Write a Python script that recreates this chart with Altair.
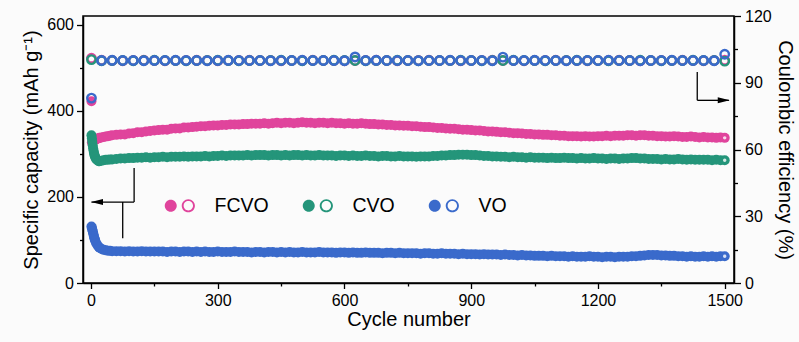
import altair as alt
import pandas as pd

FONT = "Liberation Sans"

# ---- series names and colours ----
samples = ["FCVO", "CVO", "VO"]
colors = ["#E0449C", "#24957A", "#3A6ACB"]

# ---- discharge capacity (mAh g-1) vs cycle ----
early_cycles = [1, 2, 3, 4, 5, 6, 7, 8, 9, 10, 12, 15, 18, 20, 25, 30, 35, 40, 45, 50]
late_cycles = list(range(60, 1501, 10))
cycles = early_cycles + late_cycles

fcvo_capacity = [
    422, 326, 328, 329, 330, 331, 331, 332, 332, 333, 334, 335, 336, 337, 338, 339, 340, 341, 342, 343,
    344, 345, 345, 347, 348, 350, 350, 352, 353, 354,
    355, 356, 356, 358, 359, 359, 361, 361, 362, 363,
    364, 364, 365, 366, 366, 367, 367, 368, 368, 368,
    369, 369, 370, 370, 370, 371, 370, 371, 372, 371,
    372, 372, 371, 372, 373, 372, 372, 371, 372, 372,
    371, 372, 371, 371, 370, 371, 370, 370, 371, 370,
    369, 369, 368, 368, 367, 367, 366, 366, 365, 365,
    364, 364, 363, 362, 362, 361, 360, 360, 359, 358,
    358, 357, 356, 356, 355, 354, 354, 353, 352, 352,
    351, 350, 350, 349, 348, 348, 347, 346, 346, 345,
    345, 344, 344, 343, 343, 342, 342, 341, 341, 341,
    340, 341, 340, 340, 341, 341, 342, 341, 342, 342,
    342, 343, 343, 342, 343, 343, 342, 342, 341, 341,
    340, 340, 341, 340, 339, 339, 340, 339, 338, 339,
    338, 338, 337, 338, 337,
]
cvo_capacity = [
    343, 336, 328, 320, 313, 307, 302, 298, 295, 292, 288, 285, 283, 283, 284, 285, 286, 286, 287, 287,
    288, 289, 289, 290, 290, 291, 291, 292, 291, 292,
    292, 293, 292, 293, 293, 293, 294, 293, 294, 294,
    294, 295, 294, 295, 295, 296, 295, 296, 296, 296,
    296, 297, 296, 297, 297, 297, 296, 297, 297, 296,
    297, 296, 297, 297, 296, 297, 296, 296, 297, 296,
    296, 296, 295, 296, 296, 295, 296, 295, 295, 296,
    295, 295, 294, 295, 295, 294, 294, 295, 294, 294,
    294, 293, 294, 294, 294, 295, 295, 296, 296, 297,
    297, 298, 298, 298, 297, 297, 296, 295, 295, 294,
    294, 293, 293, 292, 293, 292, 292, 291, 292, 291,
    291, 291, 290, 291, 290, 290, 291, 290, 290, 289,
    290, 289, 289, 290, 289, 289, 288, 289, 289, 288,
    289, 289, 290, 290, 289, 289, 288, 288, 288, 287,
    288, 287, 287, 288, 287, 286, 287, 286, 286, 286,
    286, 285, 286, 285, 285,
]
vo_capacity = [
    131, 128, 124, 120, 116, 112, 108, 104, 101, 98, 93, 88, 84, 82, 79, 77, 76, 75, 75, 74,
    74, 74, 73, 74, 73, 73, 74, 73, 73, 73,
    73, 73, 72, 73, 73, 72, 73, 73, 72, 73,
    72, 73, 72, 72, 73, 72, 72, 72, 73, 72,
    72, 72, 71, 72, 72, 71, 72, 72, 71, 72,
    71, 72, 71, 71, 72, 71, 71, 71, 72, 71,
    71, 71, 70, 71, 71, 70, 71, 70, 70, 71,
    70, 70, 70, 69, 70, 70, 69, 70, 69, 69,
    69, 69, 68, 69, 69, 68, 68, 69, 68, 68,
    68, 67, 68, 67, 67, 67, 66, 67, 66, 66,
    66, 65, 66, 65, 65, 64, 65, 64, 64, 63,
    63, 63, 62, 63, 62, 62, 62, 61, 62, 61,
    61, 61, 62, 61, 61, 60, 61, 61, 60, 61,
    61, 61, 62, 62, 63, 64, 65, 65, 65, 64,
    64, 63, 63, 62, 62, 61, 62, 61, 61, 62,
    61, 62, 61, 62, 62,
]

# ---- coulombic efficiency (%) ----
ce_cycles = [1] + list(range(25, 1501, 25))
fcvo_ce = [
    101.0, 100.1, 100.0, 99.9, 100.0, 100.1, 100.0, 99.9, 100.0, 100.0,
    100.1, 100.0, 99.9, 100.0, 100.0, 100.1, 100.0, 100.0, 99.9, 100.0,
    100.0, 100.1, 100.0, 100.0, 99.9, 100.0, 100.0, 100.1, 100.0, 99.9,
    100.0, 100.0, 100.1, 100.0, 100.0, 99.9, 100.0, 100.0, 100.1, 100.0,
    100.0, 99.9, 100.0, 100.0, 100.1, 100.0, 100.0, 99.9, 100.0, 100.0,
    100.1, 100.0, 99.9, 100.0, 100.0, 100.0, 100.1, 100.0, 99.9, 100.0, 100.1,
]
cvo_ce = [
    100.4, 99.9, 100.0, 100.0, 99.9, 100.0, 100.1, 100.0, 100.0, 99.9,
    100.0, 100.0, 100.1, 100.0, 99.9, 100.0, 100.0, 100.0, 100.1, 100.0,
    99.9, 100.0, 100.0, 100.1, 100.0, 100.0, 99.9, 100.0, 100.0, 100.1,
    100.0, 99.9, 100.0, 100.0, 100.0, 100.1, 100.0, 99.9, 100.0, 100.0,
    100.1, 100.0, 100.0, 99.9, 100.0, 100.0, 100.1, 100.0, 100.0, 99.9,
    100.0, 100.0, 100.1, 100.0, 99.9, 100.0, 100.0, 100.1, 100.0, 100.0, 99.7,
]
vo_ce = [
    83.1, 100.0, 100.1, 100.0, 100.0, 99.9, 100.0, 100.0, 100.1, 100.0,
    100.0, 99.9, 100.0, 100.1, 100.0, 100.0, 100.0, 99.9, 100.0, 100.0,
    100.1, 100.0, 100.0, 100.0, 99.9, 101.6, 100.0, 100.1, 100.0, 100.0,
    100.0, 99.9, 100.0, 100.0, 100.1, 100.0, 100.0, 100.0, 99.9, 101.5,
    100.0, 100.0, 100.1, 100.0, 100.0, 99.9, 100.0, 100.0, 100.0, 100.1,
    100.0, 100.0, 99.9, 100.0, 100.0, 100.1, 100.0, 100.0, 100.0, 99.9, 102.8,
]

# ---- axis ticks ----
x_ticks = list(range(0, 1501, 150))
left_ticks = list(range(0, 601, 100))
right_ticks = list(range(0, 121, 15))

# ---- bracket arrows (left arrow in capacity units, right arrow in CE units) ----
left_arrow_x1 = [102, 102, 75]
left_arrow_x2 = [102, 1, 75]
left_arrow_y1 = [267, 188, 188]
left_arrow_y2 = [188, 188, 104]
left_tip = (0, 188)
right_arrow_x1 = [1435, 1435]
right_arrow_x2 = [1435, 1510]
right_arrow_y1 = [94.8, 82.1]
right_arrow_y2 = [82.1, 82.1]
right_tip = (1512, 82.1)

# ---- tables ----
cap_rows = []
for s, vals in zip(samples, [fcvo_capacity, cvo_capacity, vo_capacity]):
    for c, v in zip(cycles, vals):
        cap_rows.append({"cycle": c, "capacity": v, "sample": s})
cap_df = pd.DataFrame(cap_rows)
last_df = pd.DataFrame({
    "cycle": [cycles[-1]] * 3,
    "capacity": [fcvo_capacity[-1], cvo_capacity[-1], vo_capacity[-1]],
})

ce_rows = []
for s, vals in zip(samples, [fcvo_ce, cvo_ce, vo_ce]):
    for c, v in zip(ce_cycles, vals):
        ce_rows.append({"cycle": c, "ce": v, "sample": s})
ce_df = pd.DataFrame(ce_rows)

left_arrow_df = pd.DataFrame({"x1": left_arrow_x1, "x2": left_arrow_x2,
                              "y1": left_arrow_y1, "y2": left_arrow_y2})
right_arrow_df = pd.DataFrame({"x1": right_arrow_x1, "x2": right_arrow_x2,
                               "y1": right_arrow_y1, "y2": right_arrow_y2})
left_tip_df = pd.DataFrame({"x": [left_tip[0]], "y": [left_tip[1]]})
right_tip_df = pd.DataFrame({"x": [right_tip[0]], "y": [right_tip[1]]})

# ---- shared styling ----
common = dict(
    labelFont=FONT, titleFont=FONT, labelFontSize=16, titleFontSize=20,
    titleFontWeight="normal", labelColor="black", titleColor="black",
    domainColor="black", tickColor="black", domainWidth=1.5, tickWidth=1.3,
    grid=False, labelOverlap=False, format="d",
)
x_axis = alt.Axis(
    values=x_ticks, title="Cycle number",
    labelExpr="datum.value % 300 === 0 ? datum.label : ''",
    tickSize={"condition": {"test": "datum.value % 300 === 0", "value": 5.5}, "value": 3},
    labelPadding=4, titlePadding=1, **common,
)
left_axis = alt.Axis(
    orient="left", values=left_ticks, title="Specific capacity (mAh g\u207b\u00b9)",
    labelExpr="datum.value % 200 === 0 ? datum.label : ''",
    tickSize={"condition": {"test": "datum.value % 200 === 0", "value": 6.5}, "value": 3.5},
    labelPadding=3, titlePadding=5, **common,
)
right_axis = alt.Axis(
    orient="right", values=right_ticks, title="Coulombic efficiency (%)",
    labelExpr="datum.value % 30 === 0 ? datum.label : ''",
    tickSize={"condition": {"test": "datum.value % 30 === 0", "value": 6.5}, "value": 3.5},
    labelPadding=4, titlePadding=3, **common,
)

x_scale = alt.Scale(domain=[-19, 1522], nice=False, zero=False)
left_scale = alt.Scale(domain=[0, 620], nice=False, zero=False)
right_scale = alt.Scale(domain=[0, 120], nice=False, zero=False)
color_scale = alt.Scale(domain=samples, range=colors)


def X(field):
    return alt.X(field, type="quantitative", scale=x_scale, axis=x_axis)


def YL(field):
    return alt.Y(field, type="quantitative", scale=left_scale, axis=left_axis)


def YR(field):
    return alt.Y(field, type="quantitative", scale=right_scale, axis=right_axis)


# legend symbol: filled ball followed by an open ring
LEGEND_SYMBOL = (
    "M -1 0 A 1 1 0 1 0 1 0 A 1 1 0 1 0 -1 0 Z "
    "M 1.83 0 A 1.1 1.1 0 1 1 4.03 0 A 1.1 1.1 0 1 1 1.83 0 Z "
    "M 2.15 0 A 0.78 0.78 0 1 0 3.71 0 A 0.78 0.78 0 1 0 2.15 0 Z"
)
legend = alt.Legend(
    orient="none", legendX=78, legendY=180, direction="horizontal", title=None,
    symbolType=LEGEND_SYMBOL, symbolSize=144, symbolStrokeWidth=0, symbolOpacity=1,
    labelFont=FONT, labelFontSize=19.5, labelColor="black", labelOffset=34,
    columnPadding=30, gridAlign="none",
)

capacity = alt.Chart(cap_df).mark_point(filled=True, size=100, opacity=1, strokeWidth=0).encode(
    x=X("cycle"), y=YL("capacity"),
    color=alt.Color("sample:N", scale=color_scale, legend=legend),
)
gloss = alt.Chart(last_df).mark_point(filled=True, size=12, opacity=0.8, color="white", strokeWidth=0).encode(
    x=X("cycle"), y=YL("capacity"),
)
left_arrow = alt.Chart(left_arrow_df).mark_rule(color="black", strokeWidth=1.3).encode(
    x=X("x1"), x2="x2", y=YL("y1"), y2="y2",
)
left_head = alt.Chart(left_tip_df).mark_point(
    shape="M 0 0 L 2 -0.5 L 2 0.5 Z", filled=True, color="black", size=144, opacity=1, strokeWidth=0
).encode(x=X("x"), y=YL("y"))

efficiency = alt.Chart(ce_df).mark_point(filled=False, size=72, strokeWidth=2.4, opacity=1).encode(
    x=X("cycle"), y=YR("ce"),
    color=alt.Color("sample:N", scale=color_scale, legend=None),
)
right_arrow = alt.Chart(right_arrow_df).mark_rule(color="black", strokeWidth=1.3).encode(
    x=X("x1"), x2="x2", y=YR("y1"), y2="y2",
)
right_head = alt.Chart(right_tip_df).mark_point(
    shape="M 0 0 L -2 -0.5 L -2 0.5 Z", filled=True, color="black", size=144, opacity=1, strokeWidth=0
).encode(x=X("x"), y=YR("y"))

left_group = alt.layer(capacity, gloss, left_arrow, left_head)
right_group = alt.layer(efficiency, right_arrow, right_head)

chart = (
    alt.layer(left_group, right_group)
    .resolve_scale(y="independent")
    .properties(
        width=651, height=267,
        padding={"left": 83, "top": 16, "right": 65, "bottom": 59},
        autosize=alt.AutoSizeParams(type="none"),
        background="#fbfbfb",
    )
    .configure_view(stroke="black", strokeWidth=1.5)
)

chart.save("out.html", embed_options={"renderer": "svg", "actions": False})
